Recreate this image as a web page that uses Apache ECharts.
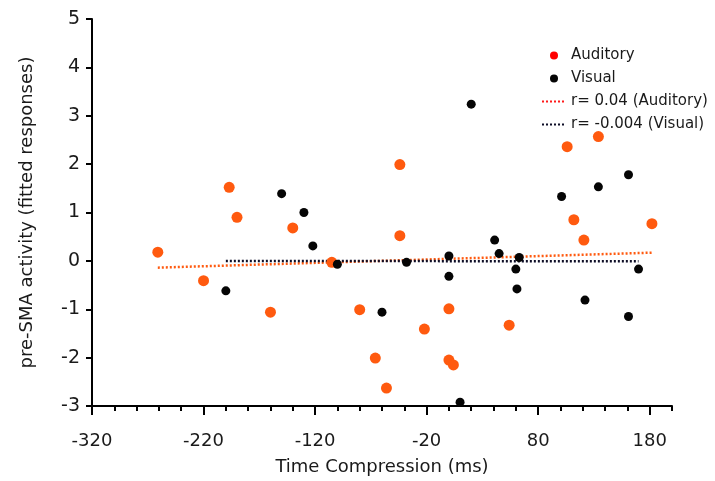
<!DOCTYPE html>
<html><head><meta charset="utf-8">
<script src="https://cdn.jsdelivr.net/npm/echarts@6/dist/echarts.min.js"></script>
<style>html,body{margin:0;padding:0;background:#fff}#c{width:715px;height:481px}</style>
</head><body><div id="c"></div>
<script>
// Auditory points [time compression ms, fitted response]
const auditoryX = [-261, -220, -197, -190, -160, -140, -105, -80, -66, -56, -44, -44, -22, 0, 0, 4, 54, 106, 112, 121, 134, 182];
const auditoryY = [0.18, -0.41, 1.52, 0.90, -1.06, 0.68, -0.03, -1.01, -2.01, -2.63, 1.99, 0.52, -1.41, -0.99, -2.05, -2.15, -1.33, 2.36, 0.85, 0.43, 2.57, 0.77];
// Visual points
const visualX = [-200, -150, -130, -122, -100, -60, -38, 0, 0, 10, 20, 41, 45, 60, 61, 63, 101, 122, 134, 161, 161, 170];
const visualY = [-0.62, 1.39, 1.00, 0.31, -0.07, -1.06, -0.03, 0.10, -0.32, -2.92, 3.24, 0.43, 0.15, -0.17, -0.58, 0.07, 1.33, -0.81, 1.53, 1.78, -1.15, -0.17];
// Regression fit lines (end points)
const fitAudX = [-261, 182];
const fitAudY = [-0.14, 0.17];
const fitVisX = [-200, 170];
const fitVisY = [0.0, -0.01];
const xMajorTicks = [-320, -220, -120, -20, 80, 180];
const names = ['Auditory', 'Visual', 'r= 0.04 (Auditory)', 'r= -0.004 (Visual)'];

const zip = (a, b) => a.map((v, i) => [v, b[i]]);
const FONT = 'DejaVu Sans';
const TXT = '#1a1a1a';

const chart = echarts.init(document.getElementById('c'), null, {renderer: 'canvas'});
chart.setOption({
  animation: false,
  backgroundColor: '#fff',
  textStyle: {fontFamily: FONT},
  grid: {left: 92, right: 43, top: 19, bottom: 75, containLabel: false, outerBoundsMode: 'none'},
  legend: {
    orient: 'vertical', left: 536, top: 43, itemWidth: 24, itemHeight: 8, itemGap: 8,
    textStyle: {fontFamily: FONT, fontSize: 15, color: TXT},
    data: [
      {name: names[0], itemStyle: {color: '#ff0000'}},
      {name: names[1]},
      {name: names[2], lineStyle: {color: '#ff1a1a'}, itemStyle: {opacity: 0}},
      {name: names[3], itemStyle: {opacity: 0}}
    ]
  },
  xAxis: [{
    type: 'value', min: -320, max: 200, interval: 20,
    name: 'Time Compression (ms)', nameLocation: 'middle', nameGap: 52,
    nameTextStyle: {fontFamily: FONT, fontSize: 18, color: TXT},
    axisLine: {onZero: false, lineStyle: {color: '#000', width: 2}},
    axisTick: {show: true, interval: 0, length: 5, lineStyle: {color: '#000', width: 2}},
    axisLabel: {customValues: xMajorTicks, margin: 26, fontFamily: FONT, fontSize: 18, color: TXT},
    splitLine: {show: false}
  }, {
    type: 'value', min: -320, max: 200, position: 'bottom',
    axisLine: {show: false, onZero: false},
    axisTick: {show: true, customValues: xMajorTicks, length: 9, lineStyle: {color: '#000', width: 2}},
    axisLabel: {show: false},
    splitLine: {show: false}
  }],
  yAxis: {
    type: 'value', min: -3, max: 5, interval: 1,
    name: 'pre-SMA activity (fitted responses)', nameLocation: 'middle', nameGap: 56,
    nameTextStyle: {fontFamily: FONT, fontSize: 18, color: TXT},
    axisLine: {show: true, onZero: false, lineStyle: {color: '#000', width: 2}},
    axisTick: {show: true, length: 6, lineStyle: {color: '#000', width: 2}},
    axisLabel: {margin: 12, fontFamily: FONT, fontSize: 19, color: TXT},
    splitLine: {show: false}
  },
  series: [
    {name: names[0], type: 'scatter', data: zip(auditoryX, auditoryY), symbolSize: 11,
     itemStyle: {color: '#ff5a0f', opacity: 1}, z: 3},
    {name: names[1], type: 'scatter', data: zip(visualX, visualY), symbolSize: 9,
     itemStyle: {color: '#050505', opacity: 1}, z: 4},
    {name: names[2], type: 'line', data: zip(fitAudX, fitAudY), symbol: 'none',
     lineStyle: {color: '#ff5a0f', width: 2.5, type: [2, 2]}, itemStyle: {color: '#ff5a0f'}, z: 2},
    {name: names[3], type: 'line', data: zip(fitVisX, fitVisY), symbol: 'none',
     lineStyle: {color: '#0d0d26', width: 2.5, type: [2, 2]}, itemStyle: {color: '#0d0d26'}, z: 2}
  ]
});
</script></body></html>
